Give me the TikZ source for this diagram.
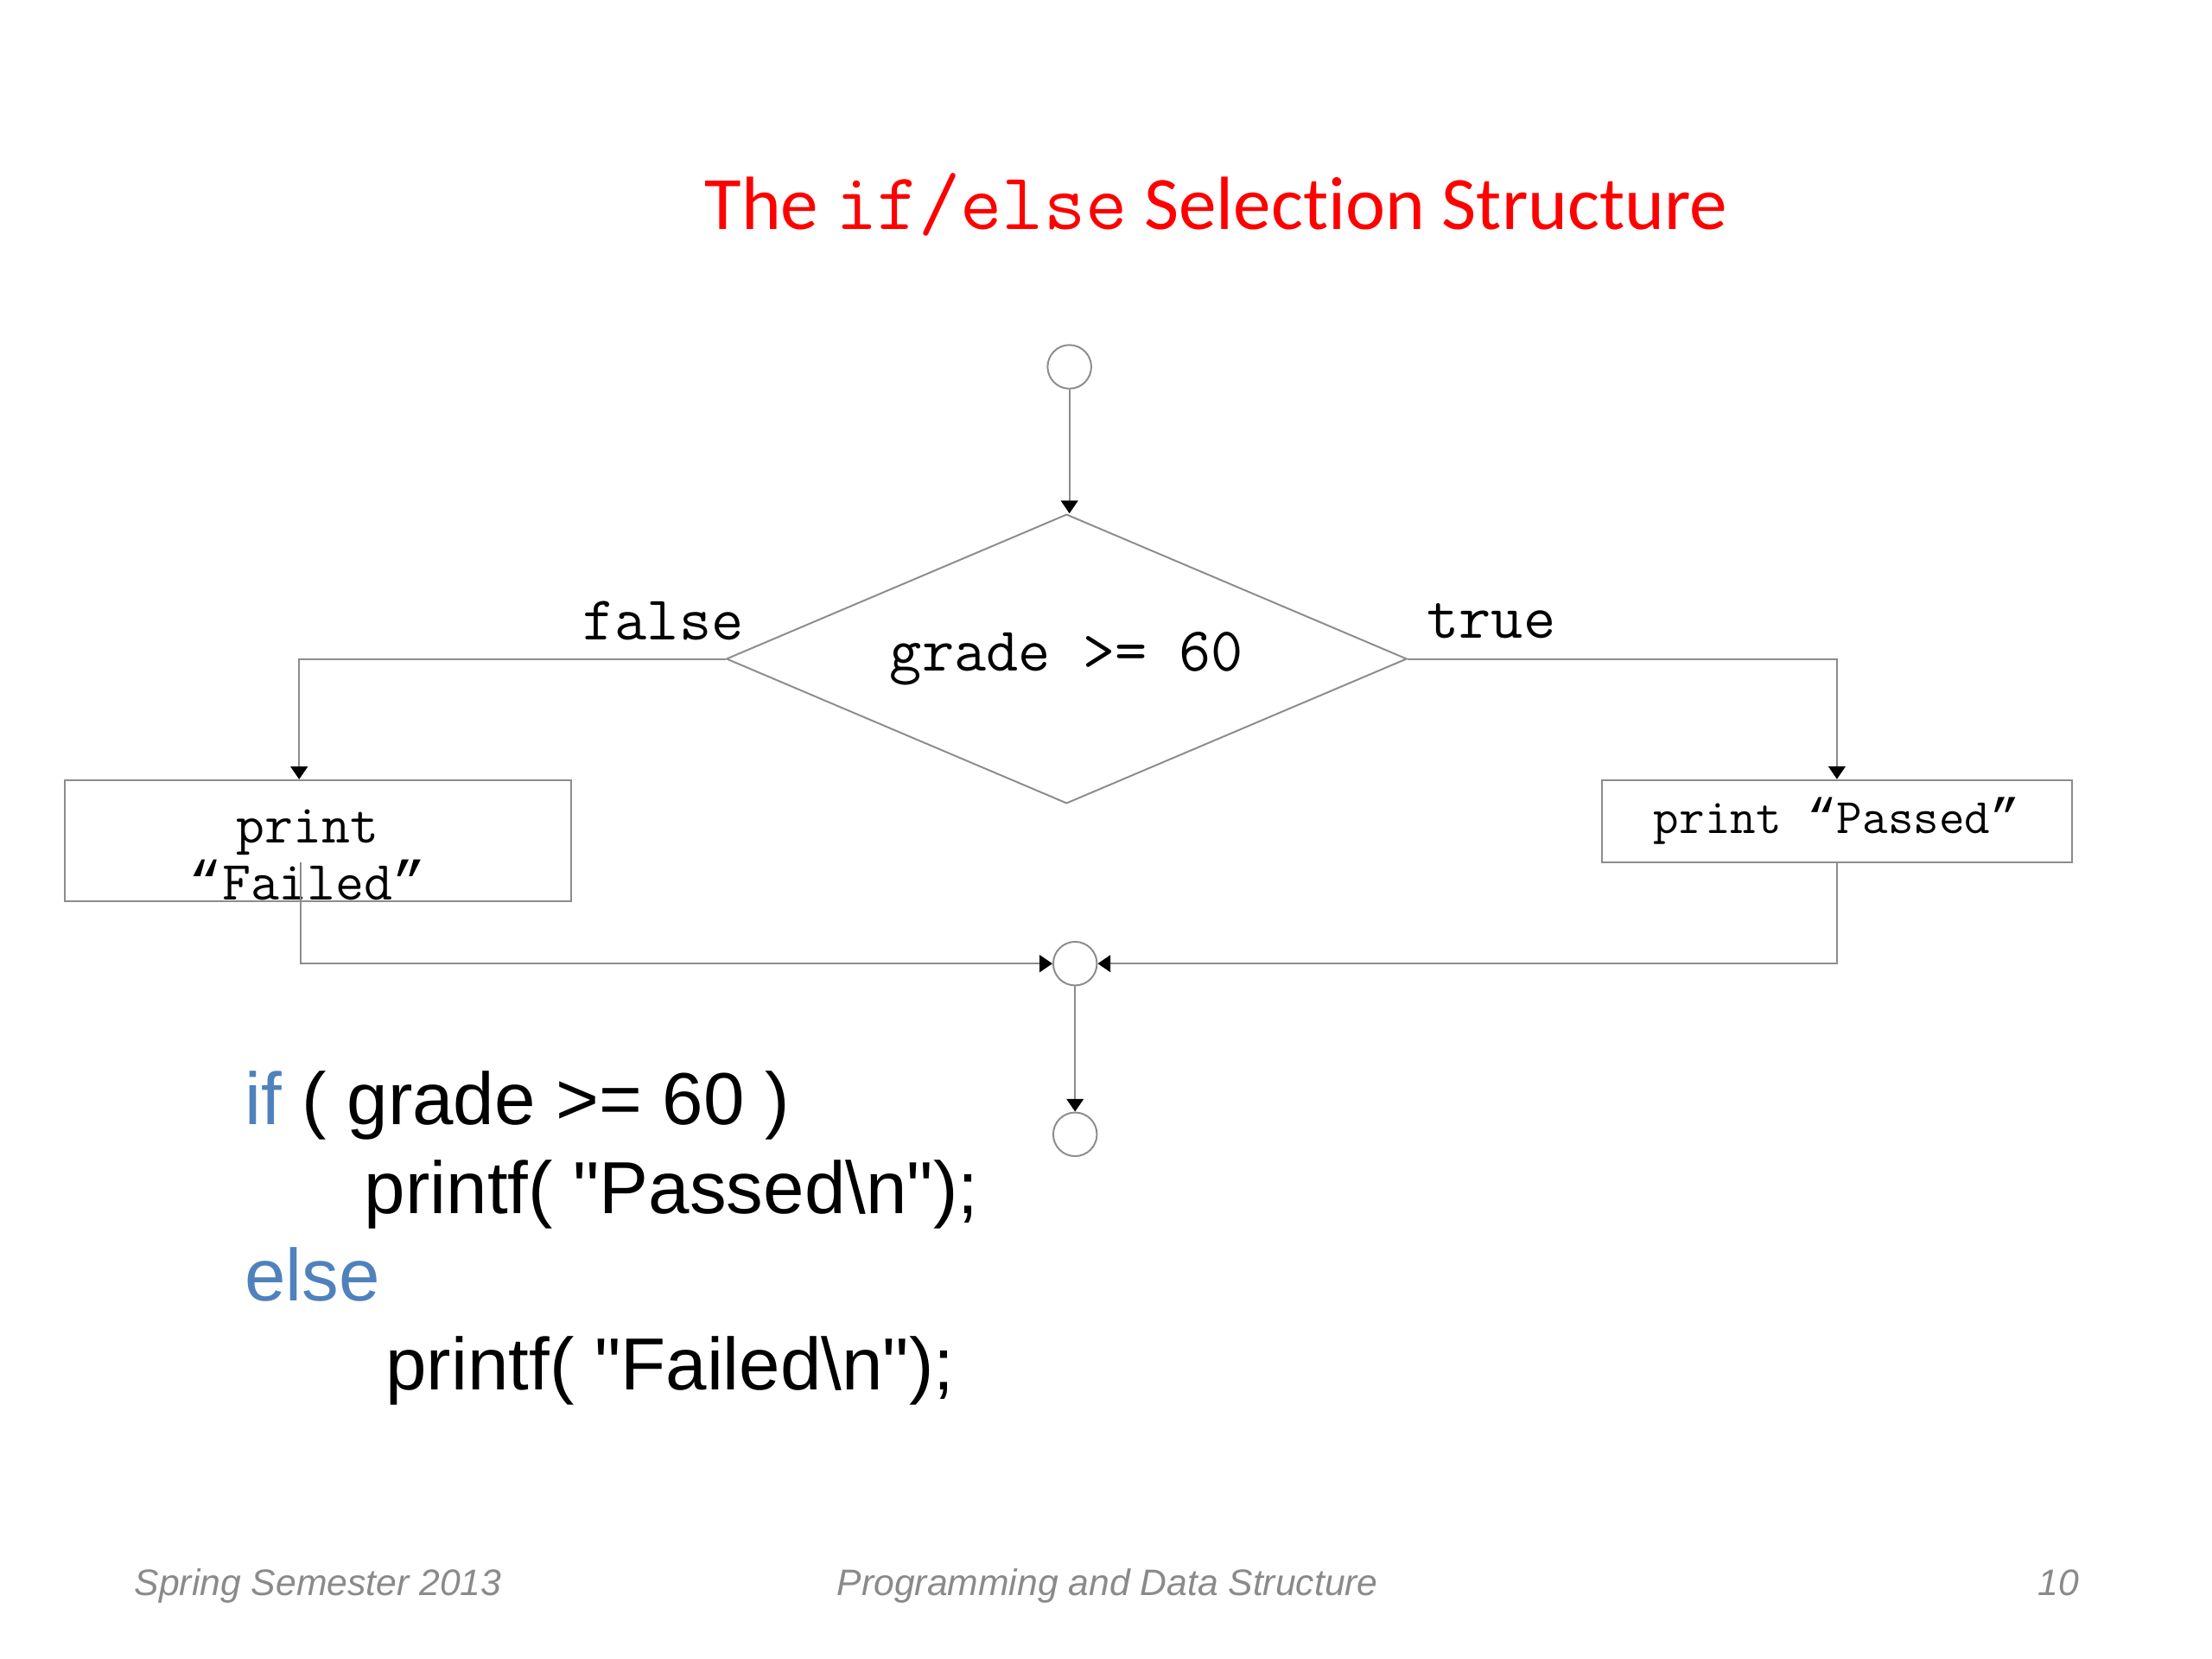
\documentclass[tikz,border=0pt]{standalone}
\usepackage{fontspec}
\setmainfont{Liberation Sans}[Ligatures=TeXOff]
\newfontfamily\titlefont{Carlito}[Ligatures=NoCommon]
\newfontfamily\qfont{Liberation Mono}
\usetikzlibrary{shapes.geometric,arrows.meta}
\definecolor{kw}{HTML}{4F81BD}
\definecolor{wire}{HTML}{8C8C8C}
\definecolor{foot}{HTML}{8A8A8A}
\newcommand\openq{{\qfont “}}
\newcommand\closeq{{\qfont ”}}
\begin{document}
\begin{tikzpicture}[x=0.4975pt,y=-0.4975pt,
    flow/.style={draw=wire,line width=0.6pt,-{Triangle[length=4.5pt,width=6pt,color=black]}},
    dot/.style={circle,draw=wire,line width=0.6pt,minimum size=15.4pt,inner sep=0pt},
    box/.style={rectangle,draw=wire,line width=0.6pt,inner sep=0pt},
    lbl/.style={font=\ttfamily\fontsize{22}{24}\selectfont},
    code/.style={anchor=base west,inner sep=0pt,font=\fontsize{26}{28}\selectfont},
    foot/.style={inner sep=0pt,font=\itshape\fontsize{13}{15}\selectfont,text=foot}]
  \useasboundingbox (0pt,0pt) rectangle (780pt,-585pt);
  % title
  \node[text=red,font=\titlefont\fontsize{26.6}{30}\selectfont] (ttl) at (862,145)
    {The {\ttfamily\fontsize{28.5}{30}\selectfont if/else} Selection Structure};
  % flowchart
  \node[dot] (start) at (758,260) {};
  \node[diamond,draw=wire,line width=0.6pt,aspect=2.35,inner sep=0pt,
    minimum width=240pt,minimum height=102pt,lbl] (cond) at (756,467) {grade >= 60};
  \node[lbl] (no) at (470,440) {false};
  \node[lbl] (yes) at (1057,440) {true};
  \node[box,minimum width=178.6pt,minimum height=42.8pt] (fail) at (225.5,596) {};
  \node[align=center,font=\ttfamily\fontsize{19.5}{20}\selectfont] (failtxt) at (218,606)
    {print\\\openq Failed\closeq};
  \node[box,minimum width=166pt,minimum height=29pt,
    font=\ttfamily\fontsize{17.5}{20}\selectfont] (pass) at (1302,582) {print \openq Passed\closeq};
  \node[dot] (merge) at (762,683) {};
  \node[dot] (stop) at (762,804) {};
  \draw[flow] (start) -- (start |- cond.north);
  \draw[flow] (cond.west) -| ([xshift=-6.7pt]fail.north);
  \draw[flow] (cond.east) -| (pass.north);
  \draw[flow] ([xshift=-6.2pt,yshift=14pt]fail.south) |- (merge.west);
  \draw[flow] (pass.south) |- (merge.east);
  \draw[flow] (merge) -- (stop);
  % code
  \node[code] (l1) at (173,797) {\textcolor{kw}{if} ( grade >= 60 )};
  \node[code] (l2) at (258,860) {printf( "Passed\textbackslash n");};
  \node[code,text=kw] (l3) at (173,922) {else};
  \node[code] (l4) at (273,985) {printf( "Failed\textbackslash n");};
  % footer
  \node[foot,anchor=base west] (sem) at (95,1131) {Spring Semester 2013};
  \node[foot,anchor=base] (course) at (785,1131) {Programming and Data Structure};
  \node[foot,anchor=base east] (page) at (1474,1131) {10};
\end{tikzpicture}
\end{document}
